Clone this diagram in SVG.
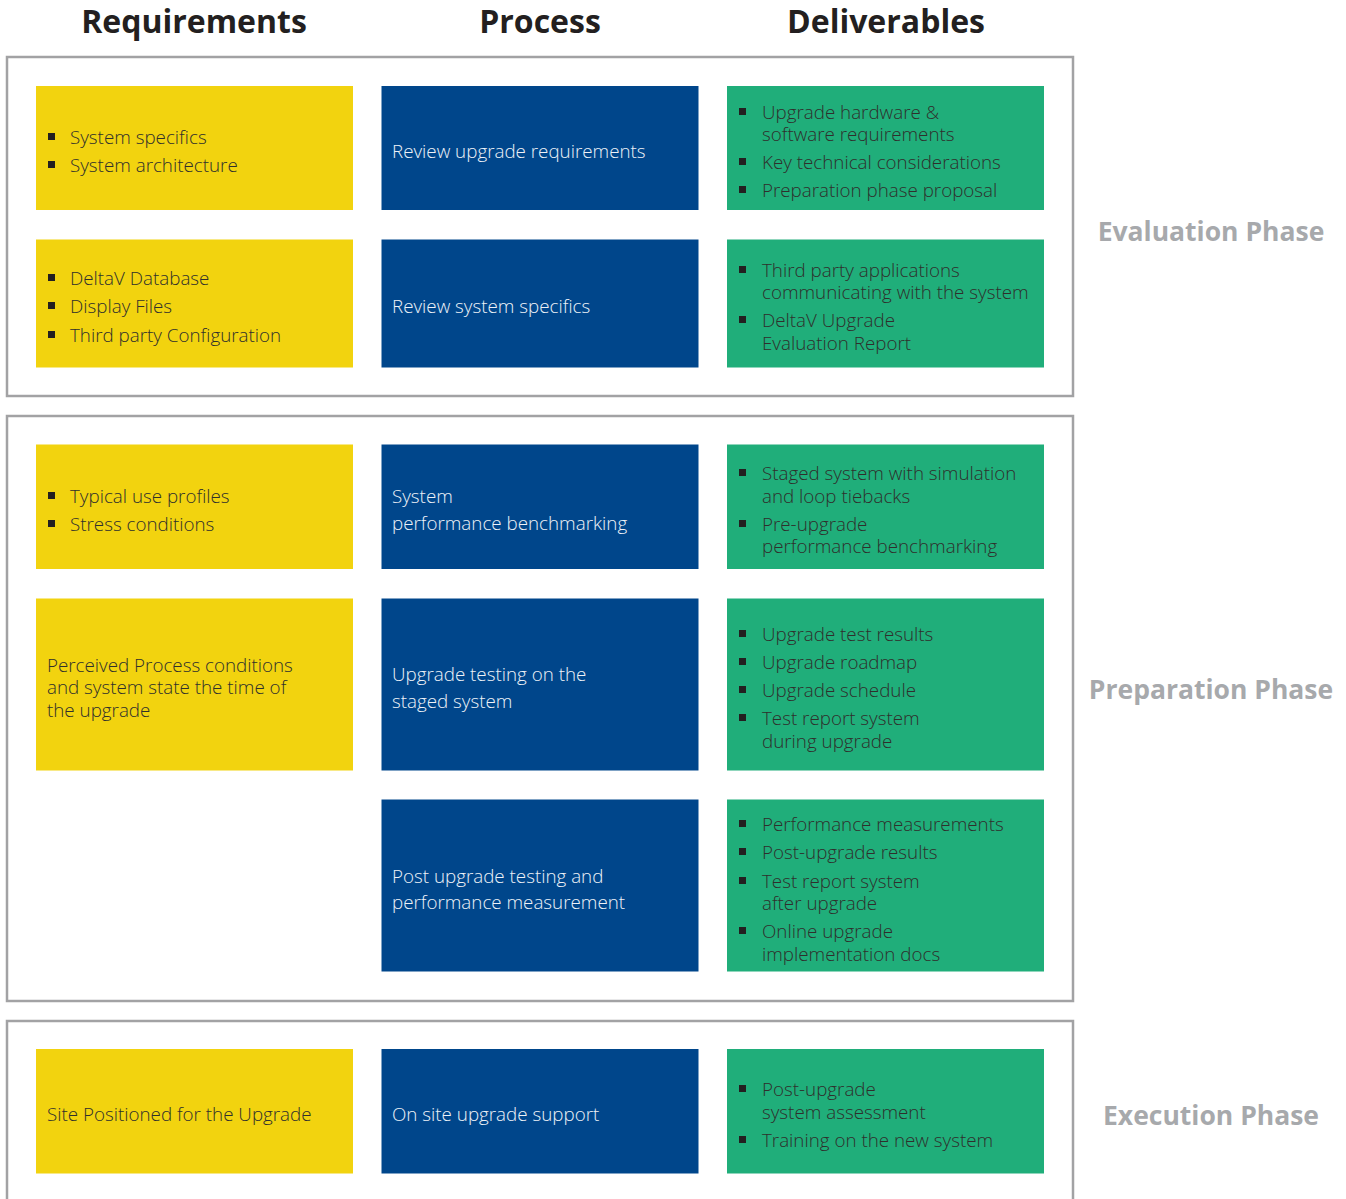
<svg xmlns="http://www.w3.org/2000/svg" width="1346" height="1199" viewBox="0 0 1346 1199">
<style>
.frame{fill:#fff;stroke:#a2a2a4;stroke-width:2.5}
.y{fill:#f2d30f}
.b{fill:#00468b}
.g{fill:#20ae7a}
text{font-family:"Open Sans","Noto Sans","DejaVu Sans",sans-serif}
.hd{font-size:32px;font-weight:700;fill:#231f20;text-anchor:middle}
.ph{font-size:26.5px;font-weight:700;fill:#a7a9ac;text-anchor:middle}
.t{font-size:18.8px;font-weight:300;fill:#2f2f2c}
.w{font-size:18.8px;font-weight:300;fill:#eef2f8}
.bl{fill:#231f20}
</style>
<rect width="1346" height="1199" fill="#fff"/>
<g id="headers">
<text class="hd" x="194" y="33">Requirements</text>
<text class="hd" x="540" y="33">Process</text>
<text class="hd" x="886" y="33">Deliverables</text>
</g>
<g id="frames">
<rect class="frame" x="7" y="57" width="1066" height="339"/>
<rect class="frame" x="7" y="416" width="1066" height="585"/>
<rect class="frame" x="7" y="1021" width="1066" height="200"/>
</g>
<g id="connectors"></g>
<g id="phase-labels">
<text class="ph" x="1211" y="241">Evaluation Phase</text>
<text class="ph" x="1211" y="699">Preparation Phase</text>
<text class="ph" x="1211" y="1125">Execution Phase</text>
</g>
<g id="req1"><rect class="y" x="36" y="86" width="317" height="124"/>
<rect class="bl" x="48" y="133" width="7" height="7"/><text class="t" x="70" y="144">System specifics</text>
<rect class="bl" x="48" y="161" width="7" height="7"/><text class="t" x="70" y="172">System architecture</text></g>
<g id="proc1"><rect class="b" x="381.5" y="86" width="317" height="124"/>
<text class="w" x="392" y="158">Review upgrade requirements</text></g>
<g id="del1"><rect class="g" x="727" y="86" width="317" height="124"/>
<rect class="bl" x="739" y="108" width="7" height="7"/><text class="t" x="762" y="119">Upgrade hardware &amp;</text>
<text class="t" x="762" y="141">software requirements</text>
<rect class="bl" x="739" y="158" width="7" height="7"/><text class="t" x="762" y="169">Key technical considerations</text>
<rect class="bl" x="739" y="186" width="7" height="7"/><text class="t" x="762" y="197">Preparation phase proposal</text></g>
<g id="req2"><rect class="y" x="36" y="239.5" width="317" height="128"/>
<rect class="bl" x="48" y="274" width="7" height="7"/><text class="t" x="70" y="285">DeltaV Database</text>
<rect class="bl" x="48" y="302" width="7" height="7"/><text class="t" x="70" y="313">Display Files</text>
<rect class="bl" x="48" y="331" width="7" height="7"/><text class="t" x="70" y="342">Third party Configuration</text></g>
<g id="proc2"><rect class="b" x="381.5" y="239.5" width="317" height="128"/>
<text class="w" x="392" y="313">Review system specifics</text></g>
<g id="del2"><rect class="g" x="727" y="239.5" width="317" height="128"/>
<rect class="bl" x="739" y="266" width="7" height="7"/><text class="t" x="762" y="277">Third party applications</text>
<text class="t" x="762" y="299">communicating with the system</text>
<rect class="bl" x="739" y="316" width="7" height="7"/><text class="t" x="762" y="327">DeltaV Upgrade</text>
<text class="t" x="762" y="350">Evaluation Report</text></g>
<g id="req3"><rect class="y" x="36" y="444.5" width="317" height="124.5"/>
<rect class="bl" x="48" y="492" width="7" height="7"/><text class="t" x="70" y="503">Typical use profiles</text>
<rect class="bl" x="48" y="520" width="7" height="7"/><text class="t" x="70" y="531">Stress conditions</text></g>
<g id="proc3"><rect class="b" x="381.5" y="444.5" width="317" height="124.5"/>
<text class="w" x="392" y="503">System</text>
<text class="w" x="392" y="530">performance benchmarking</text></g>
<g id="del3"><rect class="g" x="727" y="444.5" width="317" height="124.5"/>
<rect class="bl" x="739" y="469" width="7" height="7"/><text class="t" x="762" y="480">Staged system with simulation</text>
<text class="t" x="762" y="503">and loop tiebacks</text>
<rect class="bl" x="739" y="520" width="7" height="7"/><text class="t" x="762" y="531">Pre-upgrade</text>
<text class="t" x="762" y="553">performance benchmarking</text></g>
<g id="req4"><rect class="y" x="36" y="598.5" width="317" height="172"/>
<text class="t" x="47" y="672">Perceived Process conditions</text>
<text class="t" x="47" y="694">and system state the time of</text>
<text class="t" x="47" y="717">the upgrade</text></g>
<g id="proc4"><rect class="b" x="381.5" y="598.5" width="317" height="172"/>
<text class="w" x="392" y="681">Upgrade testing on the</text>
<text class="w" x="392" y="708">staged system</text></g>
<g id="del4"><rect class="g" x="727" y="598.5" width="317" height="172"/>
<rect class="bl" x="739" y="630" width="7" height="7"/><text class="t" x="762" y="641">Upgrade test results</text>
<rect class="bl" x="739" y="658" width="7" height="7"/><text class="t" x="762" y="669">Upgrade roadmap</text>
<rect class="bl" x="739" y="686" width="7" height="7"/><text class="t" x="762" y="697">Upgrade schedule</text>
<rect class="bl" x="739" y="714" width="7" height="7"/><text class="t" x="762" y="725">Test report system</text>
<text class="t" x="762" y="748">during upgrade</text></g>
<g id="proc5"><rect class="b" x="381.5" y="799.5" width="317" height="172"/>
<text class="w" x="392" y="883">Post upgrade testing and</text>
<text class="w" x="392" y="909">performance measurement</text></g>
<g id="del5"><rect class="g" x="727" y="799.5" width="317" height="172"/>
<rect class="bl" x="739" y="820" width="7" height="7"/><text class="t" x="762" y="831">Performance measurements</text>
<rect class="bl" x="739" y="848" width="7" height="7"/><text class="t" x="762" y="859">Post-upgrade results</text>
<rect class="bl" x="739" y="877" width="7" height="7"/><text class="t" x="762" y="888">Test report system</text>
<text class="t" x="762" y="910">after upgrade</text>
<rect class="bl" x="739" y="927" width="7" height="7"/><text class="t" x="762" y="938">Online upgrade</text>
<text class="t" x="762" y="961">implementation docs</text></g>
<g id="req6"><rect class="y" x="36" y="1049" width="317" height="124.5"/>
<text class="t" x="47" y="1121">Site Positioned for the Upgrade</text></g>
<g id="proc6"><rect class="b" x="381.5" y="1049" width="317" height="124.5"/>
<text class="w" x="392" y="1121">On site upgrade support</text></g>
<g id="del6"><rect class="g" x="727" y="1049" width="317" height="124.5"/>
<rect class="bl" x="739" y="1085" width="7" height="7"/><text class="t" x="762" y="1096">Post-upgrade</text>
<text class="t" x="762" y="1119">system assessment</text>
<rect class="bl" x="739" y="1136" width="7" height="7"/><text class="t" x="762" y="1147">Training on the new system</text></g>
</svg>
